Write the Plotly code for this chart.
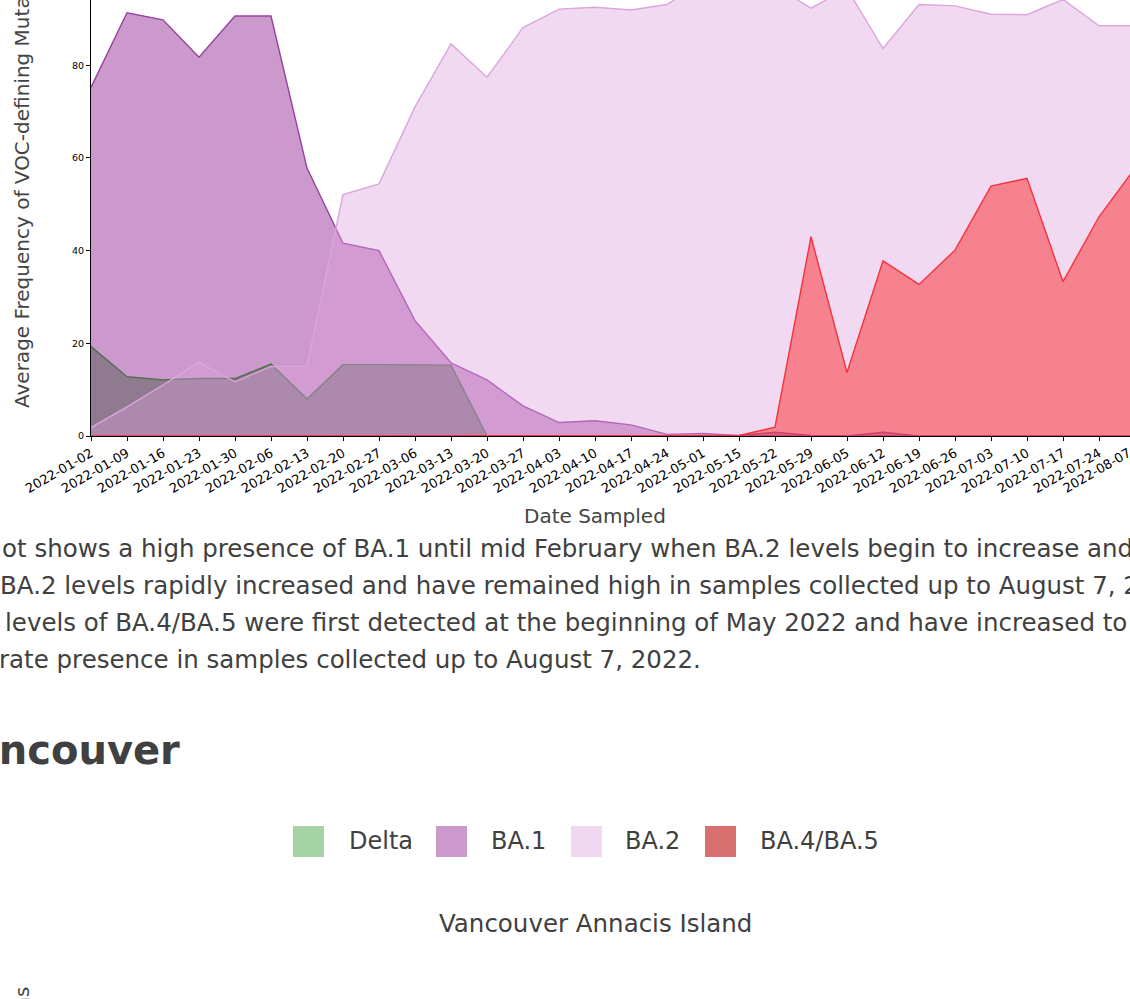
import plotly.graph_objects as go

# ---------------- data ----------------
dates = ["2022-01-02", "2022-01-09", "2022-01-16", "2022-01-23", "2022-01-30",
         "2022-02-06", "2022-02-13", "2022-02-20", "2022-02-27", "2022-03-06",
         "2022-03-13", "2022-03-20", "2022-03-27", "2022-04-03", "2022-04-10",
         "2022-04-17", "2022-04-24", "2022-05-01", "2022-05-15", "2022-05-22",
         "2022-05-29", "2022-06-05", "2022-06-12", "2022-06-19", "2022-06-26",
         "2022-07-03", "2022-07-10", "2022-07-17", "2022-07-24", "2022-08-07"]

delta = [19.3, 12.8, 12.1, 12.4, 12.4, 15.5, 8.0, 15.4, 15.4, 15.3,
         15.3, 0.0, 0.0, 0.0, 0.0, 0.0, 0.0, 0.0, 0.0, 0.0,
         0.0, 0.0, 0.0, 0.0, 0.0, 0.0, 0.0, 0.0, 0.0, 0.0]

ba1 = [75.2, 91.3, 89.8, 81.7, 90.6, 90.6, 57.8, 41.6, 40.0, 24.9,
       15.8, 12.1, 6.5, 2.9, 3.3, 2.4, 0.35, 0.55, 0.1, 0.8,
       0.1, 0.0, 0.8, 0.0, 0.0, 0.0, 0.0, 0.0, 0.0, 0.0]

ba2 = [1.8, 6.3, 11.0, 15.9, 11.7, 15.0, 15.0, 52.1, 54.4, 71.0,
       84.6, 77.4, 88.1, 92.1, 92.5, 91.9, 93.1, 98.0, 98.5, 97.0,
       92.3, 96.5, 83.6, 93.1, 92.8, 91.0, 90.9, 94.2, 88.5, 88.5]

ba45 = [0.0, 0.0, 0.0, 0.0, 0.0, 0.0, 0.0, 0.0, 0.0, 0.0,
        0.0, 0.0, 0.0, 0.0, 0.0, 0.0, 0.0, 0.0, 0.1, 1.9,
        43.0, 13.7, 37.8, 32.7, 40.1, 53.9, 55.6, 33.3, 47.3, 57.8]

series_names = ["Delta", "BA.1", "BA.2", "BA.4/BA.5"]
series_values = [delta, ba1, ba2, ba45]
fill_colors = ["rgba(0,128,0,0.4)", "rgba(128,0,128,0.4)",
               "rgba(221,160,221,0.4)", "rgba(255,0,0,0.4)"]
line_colors = ["rgb(40,185,40)", "rgb(150,65,160)",
               "rgb(220,165,220)", "rgb(245,50,60)"]
legend_colors = ["#a6d3a6", "#cc99cc", "#f0d9f0", "#d87070"]

y_ticks = [0, 20, 40, 60, 80]

y_title = "Average Frequency of VOC-defining Mutations"
x_title = "Date Sampled"
paragraph_lines = [
    "ot shows a high presence of BA.1 until mid February when BA.2 levels begin to increase and",
    "BA.2 levels rapidly increased and have remained high in samples collected up to August 7, 2022.",
    "levels of BA.4/BA.5 were first detected at the beginning of May 2022 and have increased to",
    "rate presence in samples collected up to August 7, 2022.",
]
heading = "Vancouver"
site_title = "Vancouver Annacis Island"

# ---------------- geometry ----------------
W, H = 1130, 999
PL = 91          # left edge of plot area (px)
PB = 436         # bottom edge of plot area (px)
XSTEP = 36.0     # px per category
YSCALE = 4.635   # px per unit
xmax = (W - PL) / XSTEP
ymax = PB / YSCALE

FONT = "DejaVu Sans"
GREY = "#404040"


def fx(px):
    return (px - PL) / (W - PL)


def fy(py):
    return (PB - py) / PB


fig = go.Figure()
for name, vals, fc, lc in zip(series_names, series_values, fill_colors, line_colors):
    fig.add_trace(go.Scatter(
        x=dates, y=vals, name=name, mode="lines", fill="tozeroy",
        fillcolor=fc, line=dict(color=lc, width=1.4), showlegend=False,
    ))

annotations = []
shapes = []

# axis titles
annotations.append(dict(text=y_title, xref="paper", yref="paper", x=fx(22), y=fy(410),
                        xanchor="center", yanchor="bottom", textangle=-90, showarrow=False,
                        font=dict(family=FONT, size=20, color="#444")))
annotations.append(dict(text=x_title, xref="paper", yref="paper", x=fx(595), y=fy(516),
                        xanchor="center", yanchor="middle", showarrow=False,
                        font=dict(family=FONT, size=20, color="#444")))

# last tick label (its tick lies just outside the visible page)
annotations.append(dict(text=dates[-1], xref="paper", yref="paper", x=fx(PL + XSTEP * (len(dates) - 1) + 1),
                        y=fy(PB + 6), xanchor="right", yanchor="top", textangle=-30, showarrow=False,
                        font=dict(family=FONT, size=13, color="black")))

# paragraph text
line_y = [548, 585, 622, 659]
line_x = [0, -2, 3, -3]
for t, ly, lx in zip(paragraph_lines, line_y, line_x):
    annotations.append(dict(text=t, xref="paper", yref="paper", x=fx(lx), y=fy(ly),
                            xanchor="left", yanchor="middle", showarrow=False,
                            font=dict(family=FONT, size=24.5, color=GREY)))

# heading
annotations.append(dict(text=heading, xref="paper", yref="paper", x=fx(-59), y=fy(750),
                        xanchor="left", yanchor="middle", showarrow=False,
                        font=dict(family=FONT, size=40, color=GREY, weight="bold")))

# legend of the next chart
sq_x = [293, 436, 571, 705]
tx_x = [347, 489, 623, 758]
for name, col, sx, tx in zip(series_names, legend_colors, sq_x, tx_x):
    shapes.append(dict(type="rect", xref="paper", yref="paper", x0=fx(sx), x1=fx(sx + 31),
                       y0=fy(857), y1=fy(826), fillcolor=col, line=dict(width=0)))
    annotations.append(dict(text=name, xref="paper", yref="paper", x=fx(tx), y=fy(841),
                            xanchor="left", yanchor="middle", showarrow=False,
                            font=dict(family=FONT, size=24, color=GREY)))

annotations.append(dict(text=site_title, xref="paper", yref="paper", x=fx(595), y=fy(923),
                        xanchor="center", yanchor="middle", showarrow=False,
                        font=dict(family=FONT, size=24.5, color=GREY)))

# y-axis title of the next chart (only its end is visible)
annotations.append(dict(text=y_title, xref="paper", yref="paper", x=fx(22), y=fy(985),
                        xanchor="center", yanchor="top", textangle=-90, showarrow=False,
                        font=dict(family=FONT, size=20, color="#444")))

fig.update_layout(
    width=W, height=H,
    margin=dict(l=PL, r=0, t=0, b=H - PB, pad=0),
    paper_bgcolor="white", plot_bgcolor="white",
    font=dict(family=FONT),
    showlegend=False,
    annotations=annotations,
    shapes=shapes,
    xaxis=dict(type="category", range=[0, xmax], showline=True, linecolor="black", linewidth=1,
               ticks="outside", ticklen=4, tickwidth=1, tickcolor="black", tickangle=-30,
               tickfont=dict(family=FONT, size=13, color="black"), showgrid=False, zeroline=False),
    yaxis=dict(range=[0, ymax], tickvals=y_ticks, showline=True, linecolor="black", linewidth=1,
               ticks="outside", ticklen=4, tickwidth=1, tickcolor="black",
               tickfont=dict(family=FONT, size=9.5, color="black"), showgrid=False, zeroline=False),
)

fig.write_html("out.html", config={"displayModeBar": False},
               post_script="document.body.style.margin='0px';document.body.style.overflow='hidden';")
